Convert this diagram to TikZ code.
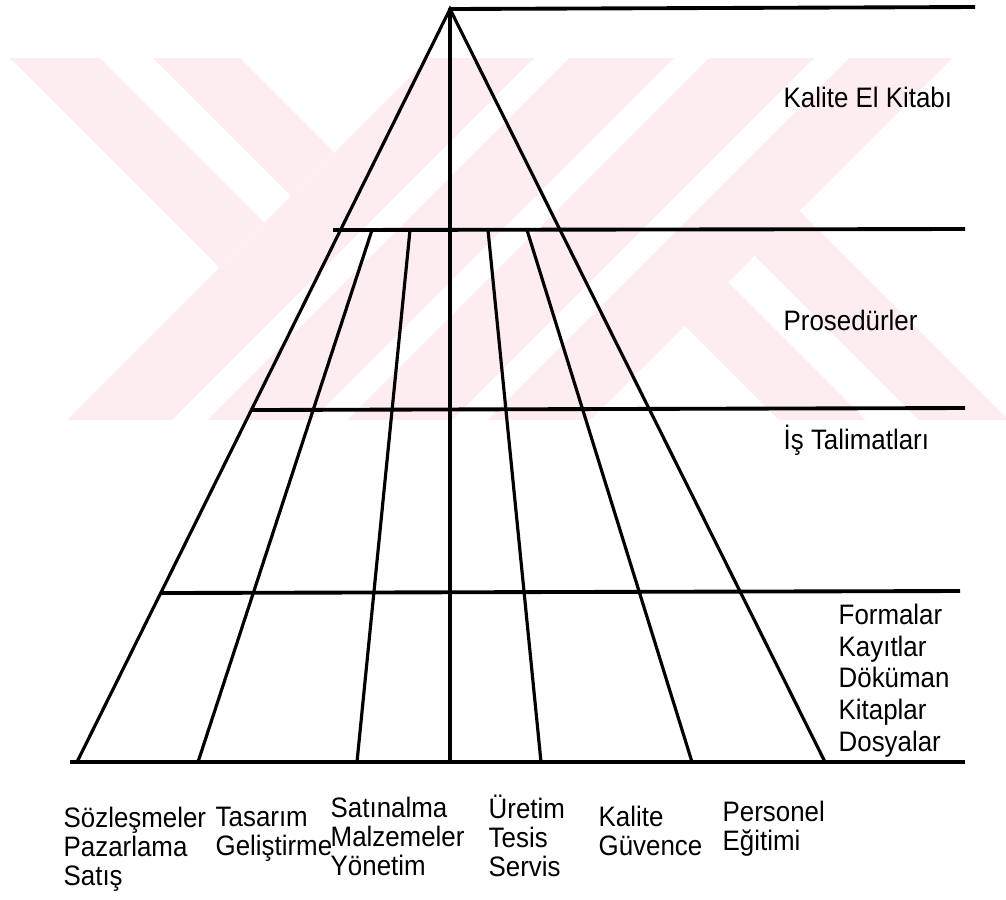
\documentclass[tikz,border=0pt]{standalone}
\usepackage{fontspec}
\setmainfont{Liberation Sans}[FakeStretch=0.92]
\usetikzlibrary{positioning}
\definecolor{wmpink}{RGB}{253,236,240}

\begin{document}
\begin{tikzpicture}[x=0.01cm, y=-0.01cm,
    edge/.style={line width=0.9pt, line cap=round},
    level/.style={line width=1.1pt},
    lbl/.style={inner sep=0pt, font=\fontsize{8}{9}\selectfont, align=left},
    dept/.style={inner sep=0pt, font=\fontsize{8}{8.2}\selectfont, align=left, anchor=base west}]
    \useasboundingbox (0,0) rectangle (1006,899);

    % Draw the watermark behind everything
    \begin{scope}
        \clip (0,58) rectangle (1006,420);
        \fill[wmpink] (10,58) -- (100,58) -- (264.5,222.5) -- (219.5,267.5) -- cycle;
        \fill[wmpink] (153,58) -- (240,58) -- (334.5,152.5) -- (291,196) -- cycle;
        \foreach \a/\b in {487/592, 627/732, 767/872, 907/1010}
            \fill[wmpink] (\a-58,58) -- (\b-58,58) -- (\b-420,420) -- (\a-420,420) -- cycle;
        \fill[wmpink] (799.5,210.5) -- (1009,420) -- (919,420) -- (754.5,255.5) -- cycle;
        \fill[wmpink] (728,282) -- (866,420) -- (779,420) -- (684.5,325.5) -- cycle;
    \end{scope}

    % Corners of the pyramid
    \coordinate (apex) at (450,9);
    \coordinate (bl) at (77,762);
    \coordinate (br) at (825,762);
    \coordinate (bm) at (450,762);

    % Draw the level lines
    \coordinate (k1) at (975,7);
    \coordinate (p0) at (333,230);
    \coordinate (p1) at (965,229);
    \coordinate (i0) at (251,410);
    \coordinate (i1) at (965,408);
    \coordinate (f0) at (161,593);
    \coordinate (f1) at (960,591);
    \coordinate (b0) at (70,762);
    \coordinate (b1) at (965,762);
    \draw[level] (apex) -- (k1);
    \draw[level] (p0) -- (p1);
    \draw[level] (i0) -- (i1);
    \draw[level] (f0) -- (f1);
    \draw[level] (b0) -- (b1);

    % Draw the sides and the middle line
    \draw[edge] (bl) -- (apex) -- (br);
    \draw[edge] (apex) -- (bm);

    % Draw the columns below the procedures line
    \foreach \t/\b in {372/198, 410/357, 488/541, 527/692}
        \draw[edge] (\t,230) -- (\b,762);

    % Level names
    \node[lbl, anchor=west] (manual) at (783,97) {Kalite El Kitabı};
    \node[lbl, anchor=west] (proc) at (783,320) {Prosedürler};
    \node[lbl, anchor=west] (instr) at (783,440) {İş Talimatları};
    \node[lbl, anchor=base west] (records) at (838,751) {Formalar\\Kayıtlar\\Döküman\\Kitaplar\\Dosyalar};

    % Department names (anchored at the last line)
    \node[dept] (sales) at (63,885) {Sözleşmeler\\Pazarlama\\Satış};
    \node[dept] (design) at (215,855) {Tasarım\\Geliştirme};
    \node[dept] (purch) at (330,875) {Satınalma\\Malzemeler\\Yönetim};
    \node[dept] (prod) at (488,876) {Üretim\\Tesis\\Servis};
    \node[dept] (qa) at (598,855) {Kalite\\Güvence};
    \node[dept] (staff) at (722,850) {Personel\\Eğitimi};

\end{tikzpicture}
\end{document}
